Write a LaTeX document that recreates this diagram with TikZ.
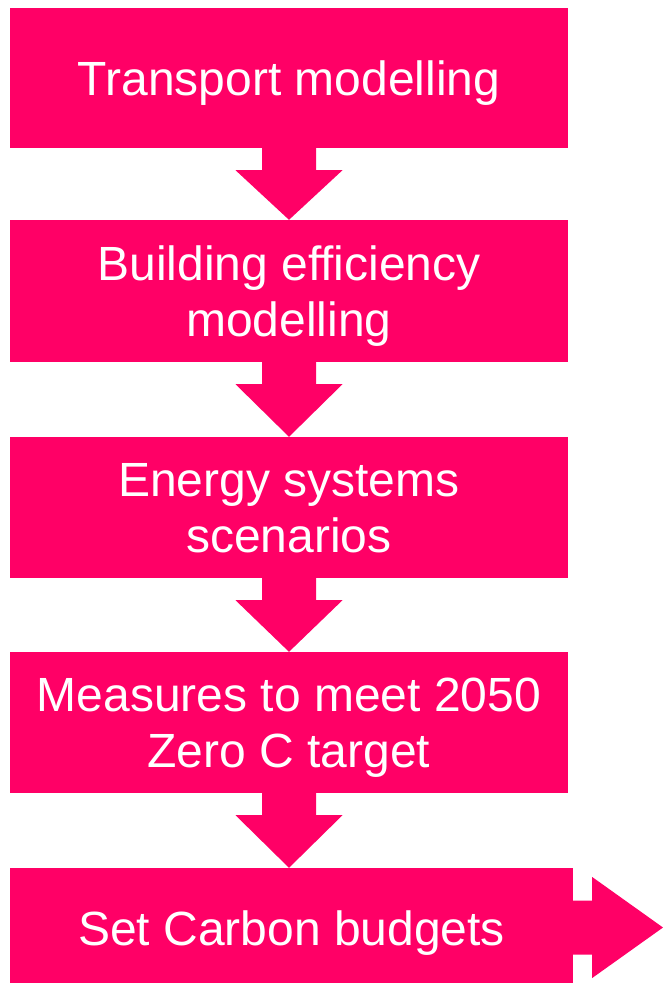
\documentclass[tikz,border=0pt]{standalone}
\usepackage{fontspec}
\setmainfont{Liberation Sans}
\usetikzlibrary{calc}
\definecolor{pk}{HTML}{FF0066}
\begin{document}
\begin{tikzpicture}[x=1pt,y=-1pt,
  stepbox/.style={fill=pk,draw=none,inner sep=0pt,minimum width=558pt,align=center,text=white,text depth=0pt,font=\fontsize{48}{56}\selectfont},
  flowarrow/.style={fill=pk,draw=none}]
\useasboundingbox (0,0) rectangle (663,983);
\begin{scope}
\clip (0,0) rectangle (663,983);
\node[stepbox,minimum height=140pt] (b1) at (289,78) {Transport modelling};
\node[stepbox,minimum height=142pt] (b2) at (289,291) {Building efficiency\\modelling};
\node[stepbox,minimum height=141pt] (b3) at (289,507.5) {Energy systems\\scenarios};
\node[stepbox,minimum height=141pt] (b4) at (289,722.5) {Measures to meet 2050\\Zero C target};
\node[stepbox,minimum width=563pt,minimum height=120pt] (b5) at (291.5,928) {Set Carbon budgets};
\foreach \a/\b in {b1/b2,b2/b3,b3/b4}{
  \fill[flowarrow] ($(\a.south)+(-27,-1)$) -- ($(\a.south)+(-27,22)$) -- ($(\a.south)+(-53.5,22)$) -- (\b.north) -- ($(\a.south)+(53.5,22)$) -- ($(\a.south)+(27,22)$) -- ($(\a.south)+(27,-1)$) -- cycle;
}
\coordinate (t4) at (b4.south |- b5.north);
\fill[flowarrow] ($(b4.south)+(-27,-1)$) -- ($(b4.south)+(-27,22)$) -- ($(b4.south)+(-53.5,22)$) -- (t4) -- ($(b4.south)+(53.5,22)$) -- ($(b4.south)+(27,22)$) -- ($(b4.south)+(27,-1)$) -- cycle;
\coordinate (tip) at (663,927.5);
\fill[flowarrow] ($(b5.east |- tip)+(-1,-27)$) -- ($(b5.east |- tip)+(19,-27)$) -- ($(b5.east |- tip)+(19,-50.5)$) -- (tip) -- ($(b5.east |- tip)+(19,50.5)$) -- ($(b5.east |- tip)+(19,27)$) -- ($(b5.east |- tip)+(-1,27)$) -- cycle;
\end{scope}
\end{tikzpicture}
\end{document}
